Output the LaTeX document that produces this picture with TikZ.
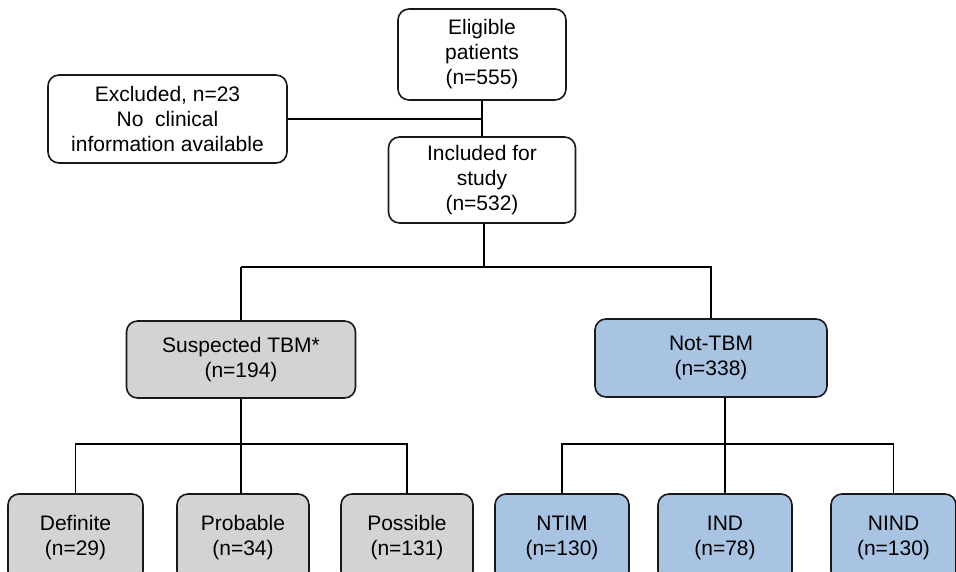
\documentclass[tikz,border=0pt]{standalone}
\usepackage{fontspec}
\setmainfont{Liberation Sans}
\definecolor{boxgray}{RGB}{211,211,211}
\definecolor{boxblue}{RGB}{168,196,226}
\definecolor{edge}{RGB}{25,25,25}
\begin{document}
\begin{tikzpicture}[x=1pt,y=-1pt,
  box/.style={draw=edge,line width=1.6pt,rounded corners=11pt,fill=white,
    align=center,inner sep=0pt,font=\fontsize{21}{25}\selectfont},
  graybox/.style={box,fill=boxgray},
  bluebox/.style={box,fill=boxblue},
  link/.style={draw=black,line width=1.5pt}]
\useasboundingbox (0,0) rectangle (956,571);
\clip (0,0) rectangle (956,571);
\node[box,minimum width=168pt,minimum height=91pt] (elig) at (482,54.5) {Eligible\\patients\\(n=555)};
\node[box,minimum width=239pt,minimum height=88pt] (excl) at (167.5,119) {Excluded, n=23\\No\ \ clinical\\information available};
\node[box,minimum width=187pt,minimum height=86pt] (incl) at (482,180) {Included for\\study\\(n=532)};
\node[graybox,minimum width=229pt,minimum height=77pt] (susp) at (241,359.5) {Suspected TBM*\\(n=194)};
\node[bluebox,minimum width=232pt,minimum height=78pt] (ntbm) at (711,358) {Not-TBM\\(n=338)};
\node[graybox,minimum width=135pt,minimum height=88pt] (def) at (75.5,538) {Definite\\(n=29)};
\node[graybox,minimum width=132pt,minimum height=88pt] (prob) at (243,538) {Probable\\(n=34)};
\node[graybox,minimum width=132pt,minimum height=88pt] (poss) at (407,538) {Possible\\(n=131)};
\node[bluebox,minimum width=134pt,minimum height=88pt] (ntim) at (562,538) {NTIM\\(n=130)};
\node[bluebox,minimum width=134pt,minimum height=88pt] (ind) at (725,538) {IND\\(n=78)};
\node[bluebox,minimum width=125pt,minimum height=88pt] (nind) at (893.5,538) {NIND\\(n=130)};
\coordinate (j1) at (484,267);
\coordinate (j2) at (241,444);
\coordinate (j3) at (725,444);
% connectors
\draw[link] (elig.south) -- (incl.north);
\draw[link] (excl.east) -- (excl.east -| elig.south);
\draw[link,line width=2pt] (incl.south -| j1) -- (j1);
\draw[link] (susp.north |- j1) -- (susp.north);
\draw[link] (susp.north |- j1) -- (ntbm.north |- j1) -- (ntbm.north);
\draw[link] (susp.south -| j2) -- (j2);
\draw[link] (def.north) -- (def.north |- j2) -- (poss.north |- j2) -- (poss.north);
\draw[link] (j2) -- (prob.north -| j2);
\draw[link] (ntbm.south -| j3) -- (j3);
\draw[link] (ntim.north) -- (ntim.north |- j3) -- (nind.north |- j3) -- (nind.north);
\draw[link] (j3) -- (ind.north -| j3);
\end{tikzpicture}
\end{document}
